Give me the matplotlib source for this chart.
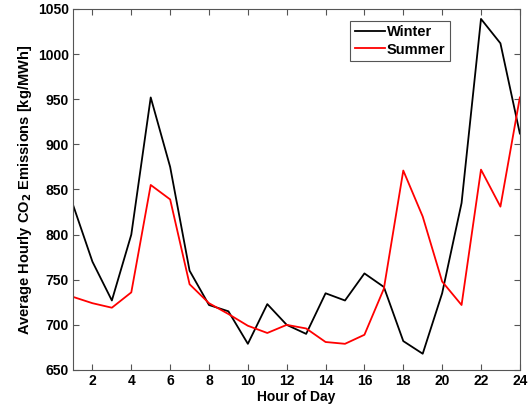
import matplotlib
matplotlib.use('Agg')
import matplotlib.pyplot as plt

plt.rcParams['font.family'] = ['Liberation Sans', 'DejaVu Sans']
plt.rcParams['font.weight'] = 'bold'
plt.rcParams['mathtext.default'] = 'bf'

hours = list(range(1, 25))
winter = [833, 770, 727, 800, 952, 875, 760, 722, 715, 679, 723, 700,
          690, 735, 727, 757, 742, 682, 668, 735, 835, 1039, 1012, 912]
summer = [731, 724, 719, 736, 855, 839, 745, 724, 712, 699, 691, 700,
          696, 681, 679, 689, 740, 871, 820, 748, 722, 872, 831, 952]

fig = plt.figure(figsize=(5.31, 4.09), dpi=100)
ax = fig.add_axes([0.1375, 0.0954, 0.8415, 0.8826])

ax.plot(hours, winter, color='black', linewidth=1.3, label='Winter')
ax.plot(hours, summer, color='red', linewidth=1.3, label='Summer')

ax.set_xlim(1, 24)
ax.set_ylim(650, 1050)
ax.set_xticks(range(2, 25, 2))
ax.set_yticks(range(650, 1051, 50))
ax.tick_params(direction='in', top=True, right=True, labelsize=10, length=4,
               color='#555555', pad=3)
for lab in ax.get_xticklabels() + ax.get_yticklabels():
    lab.set_fontweight('bold')
for s in ax.spines.values():
    s.set_edgecolor('#555555')

ax.set_xlabel('Hour of Day', fontsize=10, fontweight='bold', labelpad=1)
ax.set_ylabel('Average Hourly CO$_2$ Emissions [kg/MWh]', fontsize=10.5,
              fontweight='bold', labelpad=3)

leg = ax.legend(loc='upper right', bbox_to_anchor=(0.843, 0.968), fontsize=10.5,
                fancybox=False, framealpha=1, edgecolor='#555555',
                handlelength=2.1, handletextpad=0.1, borderpad=0.3,
                labelspacing=0.25, borderaxespad=0)
leg.get_frame().set_linewidth(0.8)
for t in leg.get_texts():
    t.set_fontweight('bold')

fig.savefig('out.png', dpi=100)
